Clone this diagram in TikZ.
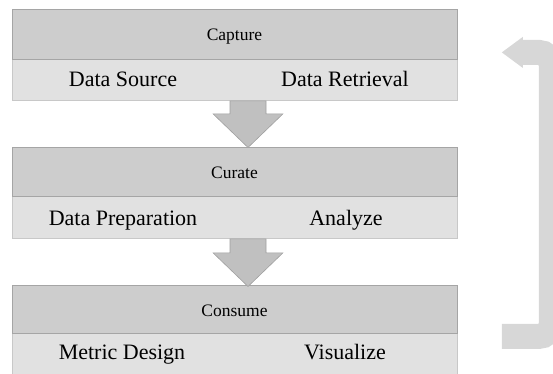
\documentclass[tikz,border=0pt]{standalone}
\usepackage{fontspec}
\setmainfont{Liberation Serif}
\usetikzlibrary{calc}
\definecolor{hdr}{RGB}{205,205,205}
\definecolor{bdy}{RGB}{225,225,225}
\definecolor{hdredge}{RGB}{165,165,165}
\definecolor{bdyedge}{RGB}{200,200,200}
\definecolor{arr}{RGB}{192,192,192}
\definecolor{arredge}{RGB}{160,160,160}
\definecolor{loopc}{RGB}{215,215,215}
\begin{document}
\begin{tikzpicture}[x=1pt,y=-1pt,
  hdrbox/.style={draw=hdredge, fill=hdr, line width=0.8pt, minimum width=445pt, inner sep=0pt, anchor=north west},
  bodybox/.style={draw=bdyedge, fill=bdy, line width=0.8pt, minimum width=445pt, inner sep=0pt, anchor=north west},
  hdrtext/.style={font=\fontsize{17.5}{20}\selectfont, inner sep=0pt, anchor=base},
  item/.style={font=\fontsize{22}{26}\selectfont, inner sep=0pt, anchor=base},
  downarrow/.style={fill=arr, draw=arredge, line width=0.6pt, line join=miter},
  loopshaft/.style={draw=loopc, line width=25pt, rounded corners=12.5pt, line cap=butt},
  loophead/.style={fill=loopc, draw=none}]
\useasboundingbox (0,0) rectangle (553,373);
\clip (0,0) rectangle (553,373);
% blocks
\node[bodybox, minimum height=41pt] (b1) at (12,59) {};
\node[hdrbox, minimum height=50pt] (h1) at (12,9) {};
\node[bodybox, minimum height=42pt] (b2) at (12,196) {};
\node[hdrbox, minimum height=49pt] (h2) at (12,147) {};
\node[bodybox, minimum height=44pt] (b3) at (12,333) {};
\node[hdrbox, minimum height=48pt] (h3) at (12,285) {};
% texts
\node[hdrtext] (t1) at ($(h1.north west)+(222.5,31)$) {Capture};
\node[hdrtext] (t2) at ($(h2.north west)+(222.5,31)$) {Curate};
\node[hdrtext] (t3) at ($(h3.north west)+(222.5,31)$) {Consume};
\node[item] (s11) at ($(b1.north west)+(111,27)$) {Data Source};
\node[item] (s12) at ($(b1.north west)+(333,27)$) {Data Retrieval};
\node[item] (s21) at ($(b2.north west)+(111,29)$) {Data Preparation};
\node[item] (s22) at ($(b2.north west)+(334,29)$) {Analyze};
\node[item] (s31) at ($(b3.north west)+(110,26)$) {Metric Design};
\node[item] (s32) at ($(b3.north west)+(333,26)$) {Visualize};
% down arrows
\coordinate (a1s) at ($(b1.south west)+(236,0)$);
\coordinate (a1t) at ($(h2.north west)+(236,0.5)$);
\draw[downarrow] ($(a1s)+(-18,0)$) -- ($(a1s)+(18,0)$) -- ($(a1s)+(18,13)$) -- ($(a1s)+(35,13)$)
  -- (a1t) -- ($(a1s)+(-35,13)$) -- ($(a1s)+(-18,13)$) -- cycle;
\coordinate (a2s) at ($(b2.south west)+(236,0)$);
\coordinate (a2t) at ($(h3.north west)+(236,1.5)$);
\draw[downarrow] ($(a2s)+(-18,0)$) -- ($(a2s)+(18,0)$) -- ($(a2s)+(18,14)$) -- ($(a2s)+(35,14)$)
  -- (a2t) -- ($(a2s)+(-35,14)$) -- ($(a2s)+(-18,14)$) -- cycle;
% return arrow
\coordinate (lt) at ($(h1.east)+(44,18)$);
\coordinate (lb) at ($(b3.east)+(44,-19)$);
\draw[loopshaft] ($(lt)+(20,0)$) -- ($(lt)+(49.5,0)$) -- ($(lb)+(49.5,0)$) -- (lb);
\fill[loophead] (lt) -- ($(lt)+(21,-15.5)$) -- ($(lt)+(21,15.5)$) -- cycle;
\end{tikzpicture}
\end{document}
